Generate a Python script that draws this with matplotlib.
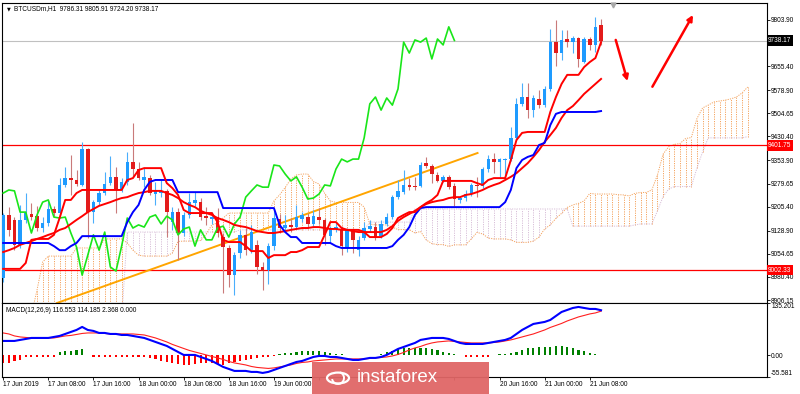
import numpy as np
import matplotlib.pyplot as plt
from matplotlib.patches import Rectangle, Circle, Arc
from matplotlib.transforms import blended_transform_factory

# ── Data (BTCUSDm H1, 17-21 Jun 2019) ──────────────────────────────────────
OPEN = [8977, 9179, 9163, 9083, 9163, 9182, 9175, 9137, 9153, 9198,
        9185, 9275, 9297, 9291, 9275, 9390, 9188, 9220, 9249, 9281,
        9301, 9259, 9285, 9349, 9326, 9291, 9297, 9246, 9249, 9256,
        9156, 9188, 9121, 9179, 9217, 9220, 9175, 9166, 9172, 9108,
        9073, 8986, 9057, 9115, 9066, 9083, 9012, 9002, 9079, 9166,
        9137, 9147, 9140, 9166, 9172, 9150, 9172, 9163, 9111, 9134,
        9134, 9076, 9131, 9066, 9105, 9134, 9140, 9111, 9150, 9172,
        9236, 9252, 9275, 9272, 9272, 9345, 9336, 9307, 9288, 9301,
        9272, 9227, 9233, 9246, 9275, 9272, 9326, 9358, 9349, 9355,
        9358, 9426, 9535, 9557, 9515, 9551, 9531, 9583, 9733, 9698,
        9743, 9733, 9746, 9669, 9743, 9724, 9786.31]
HIGH = [9185, 9204, 9172, 9211, 9249, 9217, 9208, 9172, 9227, 9208,
        9297, 9333, 9371, 9323, 9413, 9393, 9227, 9259, 9317, 9368,
        9333, 9297, 9381, 9474, 9349, 9329, 9307, 9285, 9291, 9262,
        9204, 9201, 9188, 9249, 9252, 9233, 9204, 9188, 9201, 9121,
        9083, 9060, 9131, 9137, 9147, 9099, 9028, 9089, 9195, 9182,
        9179, 9169, 9211, 9188, 9185, 9195, 9201, 9169, 9143, 9156,
        9143, 9137, 9137, 9111, 9156, 9163, 9156, 9163, 9185, 9243,
        9291, 9323, 9297, 9301, 9349, 9365, 9342, 9317, 9307, 9307,
        9281, 9240, 9259, 9281, 9301, 9333, 9371, 9377, 9361, 9361,
        9461, 9554, 9602, 9602, 9563, 9579, 9592, 9775, 9804, 9772,
        9772, 9753, 9749, 9749, 9749, 9814, 9805.91]
LOW = [8964, 9111, 9066, 9073, 9153, 9163, 9127, 9124, 9143, 9175,
       9179, 9268, 9243, 9272, 9272, 9105, 9153, 9211, 9243, 9275,
       9185, 9252, 9275, 9301, 9291, 9268, 9243, 9211, 9236, 9108,
       9131, 9034, 9111, 9169, 9208, 9163, 9147, 9150, 9108, 8929,
       8948, 8922, 9041, 9050, 9057, 8990, 8938, 8958, 9066, 9121,
       9127, 9124, 9134, 9156, 9137, 9143, 9150, 9083, 9092, 9124,
       9050, 9060, 9057, 9047, 9099, 9124, 9099, 9105, 9143, 9166,
       9230, 9246, 9259, 9259, 9268, 9329, 9281, 9285, 9285, 9262,
       9208, 9217, 9224, 9240, 9236, 9265, 9317, 9313, 9301, 9291,
       9352, 9419, 9528, 9490, 9493, 9522, 9525, 9576, 9656, 9676,
       9717, 9698, 9653, 9666, 9708, 9701, 9724.20]
CLOSE = [9179, 9131, 9083, 9163, 9185, 9172, 9137, 9153, 9198, 9185,
         9275, 9297, 9291, 9278, 9390, 9188, 9220, 9249, 9278, 9301,
         9259, 9285, 9349, 9326, 9297, 9301, 9249, 9259, 9256, 9188,
         9188, 9121, 9179, 9220, 9227, 9172, 9169, 9172, 9121, 9076,
         8986, 9050, 9115, 9066, 9124, 9012, 8999, 9079, 9169, 9137,
         9147, 9140, 9172, 9179, 9150, 9175, 9163, 9115, 9134, 9140,
         9079, 9131, 9099, 9099, 9137, 9143, 9108, 9150, 9172, 9236,
         9256, 9275, 9268, 9268, 9339, 9336, 9310, 9288, 9301, 9268,
         9230, 9233, 9246, 9275, 9272, 9326, 9358, 9349, 9358, 9358,
         9426, 9535, 9557, 9515, 9554, 9531, 9583, 9733, 9698, 9740,
         9733, 9746, 9679, 9743, 9724, 9782, 9738.17]

# Ichimoku lines (red = Tenkan-sen, blue = Kijun-sen) and a red moving average
TENKAN = [9006, 9006, 9006, 9006, 9025, 9099, 9102, 9102, 9102, 9115,
          9169, 9227, 9227, 9249, 9259, 9259, 9259, 9259, 9259, 9259,
          9259, 9259, 9291, 9297, 9323, 9329, 9329, 9329, 9329, 9281,
          9265, 9243, 9195, 9185, 9185, 9185, 9185, 9185, 9156, 9099,
          9092, 9092, 9092, 9079, 9063, 9063, 9063, 9041, 9050, 9050,
          9050, 9060, 9060, 9066, 9076, 9076, 9076, 9115, 9156, 9156,
          9137, 9131, 9131, 9131, 9124, 9108, 9108, 9108, 9118, 9137,
          9169, 9179, 9188, 9188, 9204, 9217, 9227, 9243, 9288, 9288,
          9288, 9288, 9288, 9288, 9281, 9275, 9291, 9297, 9297, 9297,
          9355, 9419, 9442, 9445, 9445, 9445, 9445, 9509, 9557, 9599,
          9628, 9628, 9628, 9653, 9669, 9682, 9733]
KIJUN = [9089, 9089, 9089, 9089, 9089, 9089, 9089, 9089, 9089, 9079,
         9066, 9066, 9079, 9089, 9111, 9111, 9111, 9111, 9111, 9111,
         9111, 9111, 9156, 9188, 9211, 9259, 9285, 9291, 9291, 9291,
         9291, 9252, 9252, 9252, 9252, 9252, 9252, 9252, 9252, 9201,
         9201, 9201, 9201, 9201, 9201, 9201, 9201, 9201, 9201, 9147,
         9124, 9108, 9108, 9089, 9089, 9089, 9089, 9089, 9089, 9079,
         9073, 9073, 9073, 9073, 9073, 9073, 9073, 9073, 9073, 9079,
         9099, 9115, 9140, 9179, 9201, 9204, 9204, 9204, 9204, 9204,
         9204, 9204, 9204, 9204, 9204, 9204, 9204, 9204, 9204, 9220,
         9259, 9329, 9355, 9365, 9371, 9403, 9410, 9467, 9503, 9509,
         9509, 9509, 9509, 9509, 9509, 9509, 9512]
MA = [9060, 9066, 9073, 9083, 9089, 9095, 9102, 9108, 9115, 9121,
      9131, 9137, 9150, 9163, 9175, 9188, 9198, 9208, 9214, 9220,
      9227, 9233, 9236, 9243, 9249, 9252, 9256, 9256, 9256, 9249,
      9243, 9233, 9220, 9211, 9204, 9192, 9185, 9179, 9169, 9163,
      9156, 9147, 9143, 9140, 9134, 9127, 9124, 9121, 9121, 9124,
      9127, 9131, 9134, 9137, 9137, 9140, 9140, 9137, 9134, 9134,
      9131, 9131, 9127, 9124, 9124, 9124, 9124, 9124, 9131, 9143,
      9160, 9172, 9182, 9192, 9204, 9214, 9220, 9224, 9227, 9233,
      9236, 9236, 9243, 9246, 9252, 9259, 9268, 9275, 9281, 9291,
      9301, 9313, 9329, 9345, 9365, 9387, 9413, 9435, 9458, 9490,
      9515, 9528, 9547, 9567, 9583, 9599, 9615]

# Kumo spans as displayed (already shifted 26 bars ahead)
SPAN_A = [8858, 8858, 8858, 8858, 8858, 8858, 8938, 9028, 9047, 9047,
          9047, 9047, 9047, 9073, 9073, 9073, 9073, 9073, 9102, 9102,
          9102, 9102, 9089, 9066, 9050, 9047, 9047, 9047, 9047, 9047,
          9057, 9094, 9095, 9095, 9095, 9097, 9118, 9147, 9153, 9169,
          9185, 9185, 9185, 9185, 9185, 9185, 9185, 9185, 9224, 9243,
          9267, 9294, 9307, 9310, 9310, 9286, 9278, 9248, 9224, 9219,
          9219, 9219, 9219, 9219, 9204, 9150, 9147, 9147, 9147, 9140,
          9132, 9132, 9132, 9121, 9126, 9099, 9087, 9084, 9084, 9078,
          9083, 9083, 9083, 9102, 9123, 9118, 9105, 9102, 9102, 9102,
          9099, 9091, 9091, 9091, 9095, 9108, 9134, 9147, 9168, 9184,
          9203, 9211, 9216, 9224, 9248, 9246, 9246, 9246, 9246, 9244,
          9243, 9240, 9248, 9251, 9251, 9259, 9307, 9374, 9398, 9405,
          9408, 9424, 9427, 9488, 9522, 9531, 9541, 9544, 9547, 9551,
          9557, 9570, 9589]
SPAN_B = [8842] * 22 + [9124] * 20 + [9131] * 23 + [9156] * 8 + [9198] * 28 + \
         [9143] * 11 + [9147, 9150, 9150, 9150, 9192, 9238, 9262, 9270, 9270,
                        9270, 9270, 9329, 9381, 9426, 9426, 9426, 9426, 9426,
                        9426, 9426, 9430]

# MACD(12,26,9)
MACD = [37.4, 37.4, 37.4, 40.0, 42.5, 45.1, 45.1, 45.1, 45.1, 47.7,
        50.3, 55.4, 60.6, 65.7, 73.5, 65.7, 63.2, 58.0, 58.0, 55.4,
        55.4, 52.8, 52.8, 50.3, 47.7, 45.1, 40.0, 34.8, 29.6, 24.5,
        16.8, 9.0, 1.3, 1.3, 1.3, -3.9, -9.0, -14.2, -21.9, -29.6,
        -34.8, -39.9, -39.9, -39.9, -42.5, -42.5, -45.1, -42.5, -37.4, -32.2,
        -27.1, -21.9, -16.8, -14.2, -9.0, -3.9, -1.3, -1.3, -3.9, -3.9,
        -6.4, -9.0, -11.6, -11.6, -9.0, -6.4, -6.4, -3.9, 1.3, 9.0,
        16.8, 21.9, 27.1, 32.2, 40.0, 42.5, 45.1, 45.1, 45.1, 42.5,
        37.4, 32.2, 29.6, 29.6, 29.6, 29.6, 32.2, 34.8, 37.4, 40.0,
        45.1, 55.4, 65.7, 73.5, 81.2, 83.8, 86.4, 91.5, 101.8, 112.1,
        117.3, 122.4, 125.0, 122.4, 119.9, 119.9, 116.553]
SIGNAL = [58.0, 55.4, 50.3, 47.7, 46.4, 45.1, 45.1, 45.1, 45.1, 45.1,
          47.7, 50.3, 51.6, 54.1, 56.7, 58.0, 58.0, 58.0, 56.7, 55.4,
          55.4, 55.4, 55.4, 55.4, 54.1, 52.8, 49.0, 45.1, 40.0, 34.8,
          28.4, 23.2, 18.0, 12.9, 9.0, 5.2, 1.3, -2.6, -6.4, -10.3,
          -15.5, -19.3, -21.9, -24.5, -28.4, -30.9, -32.2, -33.5, -32.2, -29.6,
          -27.1, -24.5, -20.6, -18.0, -16.8, -14.2, -12.9, -11.6, -10.3, -9.0,
          -9.0, -9.0, -9.0, -9.0, -9.0, -7.7, -6.4, -5.2, -3.9, -1.3,
          2.6, 7.7, 14.2, 19.3, 23.2, 28.4, 32.2, 34.8, 36.1, 37.4,
          36.1, 34.8, 33.5, 32.2, 32.2, 32.2, 32.2, 33.5, 34.8, 37.4,
          40.0, 43.8, 47.7, 51.6, 55.4, 60.6, 65.7, 72.2, 77.3, 82.5,
          88.9, 94.1, 99.3, 103.1, 107.0, 109.6, 114.185]
HIST = [-19.3, -19.3, -15.5, -11.6, -3.9, -3.9, -3.9, -3.9, -3.9, -3.9,
        7.7, 10.3, 11.6, 14.2, 16.8, 0.8, -3.9, -3.9, -3.9, -3.9,
        -3.9, -3.9, -3.9, -3.9, -3.9, -3.9, -6.4, -10.3, -14.2, -18.0,
        -20.6, -23.2, -24.5, -24.5, -23.2, -20.6, -19.3, -20.6, -21.9, -24.5,
        -20.6, -18.0, -15.5, -12.9, -10.3, -7.7, -5.2, -3.9, -1.3, 2.6,
        5.2, 6.4, 9.0, 10.3, 11.6, 11.6, 10.3, 9.0, 6.4, 3.9,
        2.6, 2.1, 2.1, 2.1, 2.1, 2.1, 2.1, 2.6, 7.7, 11.6,
        15.5, 18.0, 18.0, 19.3, 19.3, 18.0, 16.8, 12.9, 9.0, 6.4,
        3.9, 0.8, -3.9, -3.9, -3.9, -3.9, -3.9, 1.3, 2.6, 3.9,
        5.2, 7.7, 12.9, 18.0, 19.3, 20.6, 20.6, 21.9, 24.5, 24.5,
        21.9, 18.0, 14.2, 10.3, 6.4, 3.9, 2.368]

# time labels every 8 bars; the ones under the watermark are not visible
TIME_LABELS = ["17 Jun 2019", "17 Jun 08:00", "17 Jun 16:00", "18 Jun 00:00",
               "18 Jun 08:00", "18 Jun 16:00", "19 Jun 00:00", "",
               "", "", "", "20 Jun 16:00",
               "21 Jun 00:00", "21 Jun 08:00"]
PRICE_TICKS = [9803.90, 9655.40, 9578.90, 9504.65, 9430.40, 9353.90,
               9279.65, 9205.40, 9128.90, 9054.65, 8980.40, 8906.15]
MACD_TICKS = [135.201, 0.0, -55.581]
LEVELS = [9401.75, 9002.33]
LAST_PRICE = 9738.17
TREND = [(9.54, 8896.6), (84.1, 9377.5)]          # (bar, price) end points
ARROWS = [((108.6, 9740), (110.7, 9608)),           # (from, to)
          ((115.1, 9590), (122.3, 9820))]

# ── Colours ──────────────────────────────────────────────────────────────
BULL, BEAR = "#1e9bff", "#e31b1b"
BULL_WICK, BEAR_WICK = "#4aaefc", "#c97a7a"
SANDY, THISTLE = "#f4a460", "#d8bfd8"

plt.rcParams["font.family"] = ["Liberation Sans", "DejaVu Sans"]
FS = 4.7

fig = plt.figure(figsize=(8, 3.94), dpi=100)
W, H = 800, 394
ax = fig.add_axes([2 / W, 1 - 303 / H, 765 / W, 300 / H])
mx = fig.add_axes([2 / W, 1 - 377 / H, 765 / W, 74 / H], sharex=ax)

bars = np.arange(len(CLOSE))
o, h, l, c = map(np.array, (OPEN, HIGH, LOW, CLOSE))
up = c >= o

# Kumo
sx = np.arange(len(SPAN_A))
sa, sb = np.array(SPAN_A), np.array(SPAN_B)
bull_cloud = sa >= sb
dot = (0, (1.2, 1.2))
ax.vlines(sx[bull_cloud], sb[bull_cloud], sa[bull_cloud], colors=SANDY,
          linestyles=dot, lw=0.7, zorder=1)
ax.vlines(sx[~bull_cloud], sa[~bull_cloud], sb[~bull_cloud], colors=THISTLE,
          linestyles=dot, lw=0.7, zorder=1)
ax.plot(sx, sa, color=SANDY, ls=dot, lw=0.7, zorder=1)
ax.plot(sx, sb, color=THISTLE, ls=dot, lw=0.7, zorder=1)

# levels and trend line
ax.axhline(LAST_PRICE, color="#c0c0c0", lw=0.8, zorder=1.5)
for lv in LEVELS:
    ax.axhline(lv, color="#ff0000", lw=0.9, zorder=1.5)
ax.plot([p[0] for p in TREND], [p[1] for p in TREND], color="#ffa500",
        lw=1.4, zorder=2)

# candles
ax.vlines(bars[up], l[up], h[up], colors=BULL_WICK, lw=0.8, zorder=3)
ax.vlines(bars[~up], l[~up], h[~up], colors=BEAR_WICK, lw=0.8, zorder=3)
body = np.maximum(np.abs(c - o), 3.0)
ax.bar(bars[up], body[up], bottom=o[up], width=0.62, color=BULL, lw=0, zorder=4)
ax.bar(bars[~up], body[~up], bottom=c[~up], width=0.62, color=BEAR, lw=0, zorder=4)

# indicator lines
ax.plot(bars[:-26], c[26:], color="#19e619", lw=1.2, zorder=5)   # Chikou span
ax.plot(bars, MA, color="#ff0000", lw=1.4, zorder=5)
ax.plot(bars, KIJUN, color="#0000ff", lw=1.4, zorder=5)
ax.plot(bars, TENKAN, color="#ff0000", lw=1.4, zorder=5)

for (x0, y0), (x1, y1) in ARROWS:
    ax.annotate("", xy=(x1, y1), xytext=(x0, y0), zorder=6,
                arrowprops=dict(arrowstyle="-|>", color="#ff0000", lw=1.8,
                                mutation_scale=8, shrinkA=0, shrinkB=0))

ax.set_xlim(-0.21, 135.42)
ax.set_ylim(8896.6, 9858.4)

# right price axis
ax.yaxis.tick_right()
ax.set_yticks(PRICE_TICKS)
ax.set_yticklabels([f"{v:.2f}" for v in PRICE_TICKS])
ax.tick_params(axis="y", length=2, width=0.6, pad=1, labelsize=FS)
ax.tick_params(axis="x", bottom=False, labelbottom=False)
tr = blended_transform_factory(ax.transAxes, ax.transData)
ax.text(1.0015, LAST_PRICE, f"{LAST_PRICE:.2f}", transform=tr, ha="left",
        va="center", fontsize=FS, color="white", zorder=10,
        bbox=dict(boxstyle="square,pad=0.25", fc="black", ec="none"))
for lv in LEVELS:
    ax.text(1.0015, lv, f"{lv:.2f}", transform=tr, ha="left", va="center",
            fontsize=FS, color="white", zorder=10,
            bbox=dict(boxstyle="square,pad=0.25", fc="#ff0000", ec="none"))

ax.text(0.0065, 0.98, "\u25bc", transform=ax.transAxes, fontsize=3.5,
        va="center", ha="left", family="DejaVu Sans")
ax.text(0.0157, 0.98, "BTCUSDm,H1  9786.31 9805.91 9724.20 9738.17",
        transform=ax.transAxes, fontsize=FS, va="center", ha="left")
ax.plot([108.1], [9853], marker="v", ms=3.5, color="#a8a8a8", clip_on=False,
        zorder=10)

# MACD panel
hist = np.array(HIST)
mx.bar(bars[hist >= 0], hist[hist >= 0], width=0.38, color="#008000", lw=0)
mx.bar(bars[hist < 0], hist[hist < 0], width=0.38, color="#ff0000", lw=0)
mx.plot(bars, SIGNAL, color="#ff2020", lw=0.8)
mx.plot(bars, MACD, color="#0000ff", lw=1.5)
mx.set_ylim(-55.581, 135.201)
mx.yaxis.tick_right()
mx.set_yticks(MACD_TICKS)
mx.set_yticklabels(["135.201", "0.00", "-55.581"])
labs = mx.get_yticklabels()
labs[0].set_va("top")
labs[2].set_va("bottom")
mx.tick_params(axis="y", length=2, width=0.6, pad=1, labelsize=FS)
mx.set_xticks(bars[::8])
mx.set_xticklabels(TIME_LABELS, ha="left")
mx.tick_params(axis="x", length=2, width=0.6, pad=0.8, labelsize=FS)
mx.text(0.0052, 0.905, "MACD(12,26,9) 116.553 114.185 2.368 0.000",
        transform=mx.transAxes, fontsize=FS, va="center", ha="left")

for a in (ax, mx):
    for s in a.spines.values():
        s.set_linewidth(0.8)
        s.set_color("black")

# watermark (figure pixels measured from the top, converted to fractions)
cy = (H - 378) / H
fig.add_artist(Rectangle((312 / W, 0), 177 / W, 32 / H, transform=fig.transFigure,
                         fc="#e06666", ec="none", alpha=0.95, zorder=20))
fig.add_artist(Circle((338 / W, cy), 11 / W, transform=fig.transFigure,
                      fill=False, ec="white", lw=1.6, zorder=21))
fig.add_artist(Arc((338 / W, cy), 12 / W, 12 / H, theta1=200, theta2=80,
                   transform=fig.transFigure, ec="white", lw=1.4, zorder=21))
fig.text(357 / W, cy, "instaforex", color="white", fontsize=13.5,
         va="center", ha="left", zorder=22)

fig.savefig("out.png", dpi=100)
